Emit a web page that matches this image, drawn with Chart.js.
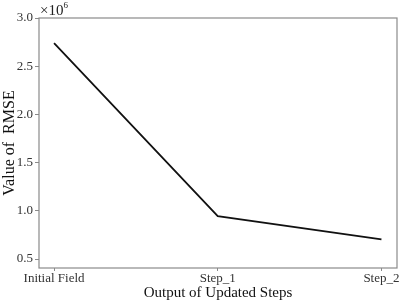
<!DOCTYPE html>
<html>
<head>
<meta charset="utf-8">
<script src="https://cdn.jsdelivr.net/npm/chart.js@4"></script>
<style>
  html, body { margin: 0; padding: 0; background: #fff; }
  #wrap { width: 400px; height: 302px; }
</style>
</head>
<body>
<div id="wrap"><canvas id="rmseChart" width="400" height="302"></canvas></div>
<script>
const categories = ["Initial Field", "Step_1", "Step_2"];
const rmseValues = [2.74, 0.945, 0.705]; // in units of 1e6
const yTicks = [0.5, 1.0, 1.5, 2.0, 2.5, 3.0];

const FONT = "'Liberation Serif', 'Times New Roman', serif";
const AXIS_GRAY = "#8a8a8a";

const frameBox = {
    id: "frameBox",
    afterDraw(chart) {
        const { ctx, chartArea } = chart;
        ctx.save();
        ctx.strokeStyle = AXIS_GRAY;
        ctx.lineWidth = 1.2;
        ctx.strokeRect(chartArea.left, chartArea.top, chartArea.right - chartArea.left, chartArea.bottom - chartArea.top);
        // multiplier label
        ctx.fillStyle = "#222";
        ctx.font = "15px " + FONT;
        ctx.textBaseline = "alphabetic";
        ctx.fillText("\u00d710", chartArea.left + 1, chartArea.top - 3);
        const w = ctx.measureText("\u00d710").width;
        ctx.font = "9px " + FONT;
        ctx.fillText("6", chartArea.left + 1 + w, chartArea.top - 10);
        ctx.restore();
    },
};

new Chart(document.getElementById("rmseChart"), {
    type: "line",
    data: {
        datasets: [
            {
                data: rmseValues.map((v, i) => ({ x: i, y: v })),
                borderColor: "#111",
                borderWidth: 1.8,
                pointRadius: 0,
                tension: 0,
                fill: false,
            },
        ],
    },
    options: {
        responsive: false,
        animation: false,
        devicePixelRatio: 1,
        layout: { padding: { left: 0, right: 3, top: 18, bottom: 0 } },
        plugins: {
            legend: { display: false },
            tooltip: { enabled: false },
        },
        scales: {
            x: {
                type: "linear",
                min: -0.092,
                max: 2.095,
                afterBuildTicks: (axis) => {
                    axis.ticks = categories.map((_, i) => ({ value: i }));
                },
                ticks: {
                    callback: (value) => categories[value] ?? "",
                    color: "#333",
                    font: { family: FONT, size: 13, lineHeight: 1.1 },
                    padding: 0,
                    maxRotation: 0,
                },
                grid: {
                    drawOnChartArea: false,
                    color: AXIS_GRAY,
                    tickLength: 3,
                },
                border: { display: false },
                title: {
                    display: true,
                    text: "Output of Updated Steps",
                    color: "#111",
                    font: { family: FONT, size: 15, lineHeight: 1.0 },
                    padding: { top: 0, bottom: 1 },
                },
                afterFit: (axis) => { axis.height = 34; },
            },
            y: {
                min: 0.407,
                max: 3.0,
                afterBuildTicks: (axis) => {
                    axis.ticks = yTicks.map((v) => ({ value: v }));
                },
                ticks: {
                    callback: (value) => value.toFixed(1),
                    color: "#333",
                    font: { family: FONT, size: 13 },
                    padding: 2,
                },
                grid: {
                    drawOnChartArea: false,
                    color: AXIS_GRAY,
                    tickLength: 4,
                },
                border: { display: false },
                title: {
                    display: true,
                    text: "Value of  RMSE",
                    color: "#111",
                    font: { family: FONT, size: 16 },
                    padding: { top: 0, bottom: 0 },
                },
                afterFit: (axis) => { axis.width = 39; },
            },
        },
    },
    plugins: [frameBox],
});
</script>
</body>
</html>
